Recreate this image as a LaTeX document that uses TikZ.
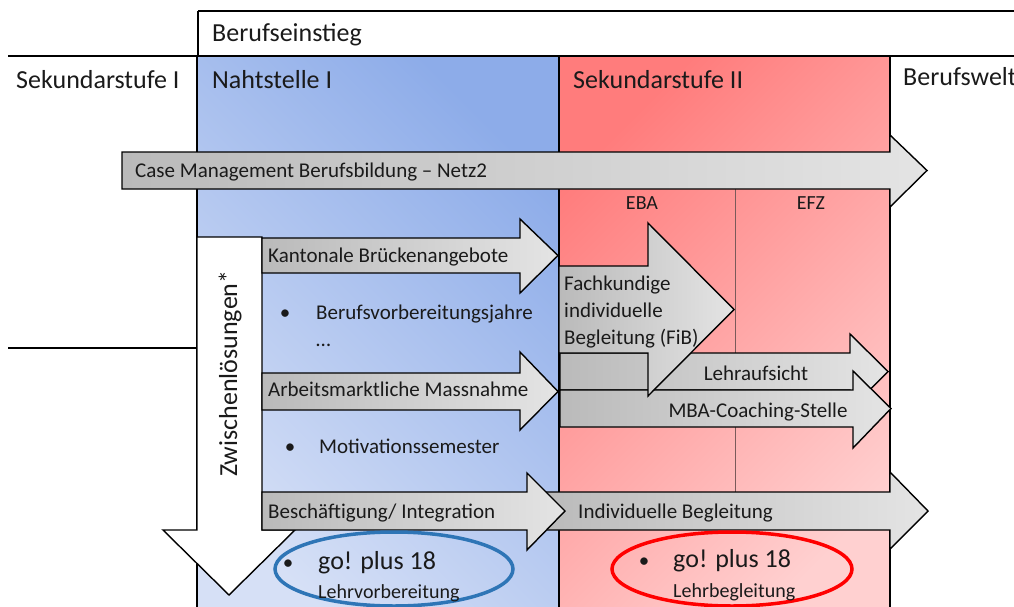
\documentclass[tikz,border=0pt]{standalone}
\usepackage{fontspec}
\setmainfont{Carlito}
\definecolor{bluedark}{HTML}{8DACE9}
\definecolor{bluelight}{HTML}{D6E0F6}
\definecolor{reddark}{HTML}{FF7C7C}
\definecolor{redlight}{HTML}{FFD0D0}
\definecolor{graydark}{HTML}{BABABA}
\definecolor{graylight}{HTML}{E4E4E4}
\definecolor{ellblue}{HTML}{2E75B6}
\definecolor{ellred}{HTML}{FF0000}
\definecolor{vlinecol}{HTML}{7A5A5A}
\definecolor{txt}{HTML}{1A1A1A}
% block arrow: [opts]{x0}{xhead}{xtip}{ytop}{ybot}{headtop}{headbot}
\newcommand{\blockarrow}[8][]{%
  \draw[arrowbox,#1] (#2,#5) -- (#3,#5) -- (#3,#7) -- (#4,{(#5+#6)/2}) -- (#3,#8) -- (#3,#6) -- (#2,#6) -- cycle;}
\begin{document}
\begin{tikzpicture}[x=1pt,y=-1pt,
  frame/.style={line width=1.3pt, draw=black},
  arrowbox/.style={line width=1.4pt, draw=black, left color=graydark, right color=graylight, line join=miter},
  head/.style={font=\fontsize{26}{30}\selectfont, text=txt, inner sep=0pt, anchor=base west},
  lbl/.style={font=\fontsize{21}{25}\selectfont, text=txt, inner sep=0pt, anchor=base west},
  small/.style={font=\fontsize{20}{24}\selectfont, text=txt, inner sep=0pt, anchor=base},
  bul/.style={font=\fontsize{21}{25}\selectfont, text=txt, inner sep=0pt, anchor=base},
  big/.style={font=\fontsize{26}{30}\selectfont, text=txt, inner sep=0pt, anchor=base west},
]
\useasboundingbox (0,0) rectangle (1014,607);
% frame lines
\draw[frame] (198,11) -- (1014,11);
\draw[frame] (198,11) -- (198,56);
\draw[frame] (8,56) -- (1014,56);
\draw[frame] (8,348) -- (197,348);
% phase boxes
\draw[frame, top color=bluedark, bottom color=bluelight, shading angle=-45] (197,56) rectangle (559,625);
\draw[frame, top color=reddark, bottom color=redlight, shading angle=45] (559,56) rectangle (890,625);
\draw[vlinecol, line width=1pt] (735,189) -- (735,492);
% arrows
\blockarrow{122}{890}{927}{152}{189}{135}{207}
\draw[line width=1.4pt, draw=black, fill=white, line join=miter]
  (197,237) -- (262,237) -- (262,530) -- (295,530) -- (229,595) -- (163,530) -- (197,530) -- cycle;
\blockarrow{262}{520}{558}{238}{273}{219}{293}
\blockarrow{262}{520}{558}{373}{410}{352}{430}
\blockarrow{540}{890}{928}{492}{530}{472}{549}
\blockarrow{262}{527}{565}{492}{530}{473}{550}
\blockarrow{560}{850}{888}{353}{390}{334}{410}
\blockarrow{560}{853}{891}{390}{427}{371}{448}
\blockarrow{559}{648}{734}{266}{353}{223}{396}
% ellipses
\draw[ellblue, line width=3.5pt] (394,569) ellipse [x radius=119, y radius=37];
\draw[ellred, line width=3.5pt] (732,569) ellipse [x radius=120, y radius=37];
% texts
\node[head] (berufseinstieg) at (212,42) {Berufseinstieg};
\node[head] (sek1) at (16,89) {Sekundarstufe I};
\node[head] (naht) at (212,89) {Nahtstelle I};
\node[head] (sek2) at (573,89) {Sekundarstufe II};
\node[head] (welt) at (903,86) {Berufswelt};
\node[lbl] (case) at (135,177) {Case Management Berufsbildung – Netz2};
\node[small] (eba) at (642,209) {EBA};
\node[small] (efz) at (811,209) {EFZ};
\node[lbl] (kant) at (268,262) {Kantonale Brückenangebote};
\node[bul] (b1) at (285,319) {\textbullet};
\node[lbl] (bvj) at (316,319) {Berufsvorbereitungsjahre};
\node[lbl] (dots) at (316,346) {…};
\node[lbl] (arb) at (268,396) {Arbeitsmarktliche Massnahme};
\node[bul] (b2) at (290,453) {\textbullet};
\node[lbl] (mot) at (319,453) {Motivationssemester};
\node[lbl] (besch) at (268,518) {Beschäftigung/ Integration};
\node[lbl] (indiv) at (578,518) {Individuelle Begleitung};
\node[lbl, anchor=base] (lehrauf) at (756,380) {Lehraufsicht};
\node[lbl, anchor=base] (mba) at (758,417) {MBA-Coaching-Stelle};
\node[lbl] (fib1) at (564,290) {Fachkundige};
\node[lbl] (fib2) at (564,317) {individuelle};
\node[lbl] (fib3) at (564,344) {Begleitung (FiB)};
\node[head, rotate=90] (zwisch) at (237,477) {Zwischenlösungen*};
\node[bul] (b3) at (288,569) {\textbullet};
\node[big] (go1) at (318,569) {go! plus 18};
\node[lbl, font=\fontsize{20}{24}\selectfont] (lv) at (318,598) {Lehrvorbereitung};
\node[bul] (b4) at (644,567) {\textbullet};
\node[big] (go2) at (673,567) {go! plus 18};
\node[lbl, font=\fontsize{20}{24}\selectfont] (lb) at (673,597) {Lehrbegleitung};
\end{tikzpicture}
\end{document}
